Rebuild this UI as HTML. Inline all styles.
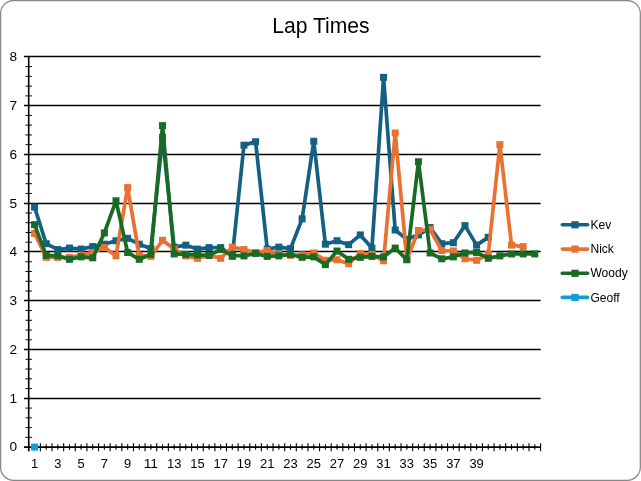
<!DOCTYPE html>
<html><head><meta charset="utf-8"><title>Lap Times</title>
<style>
html,body{margin:0;padding:0;background:#fff;}
body{width:641px;height:481px;overflow:hidden;}
svg{display:block;font-family:"Liberation Sans",Arial,sans-serif;}
</style></head><body>
<svg width="641" height="481" viewBox="0 0 641 481">
<rect x="0.6" y="0.6" width="639.72" height="479.7" rx="13" ry="13" fill="#fff" stroke="#888" stroke-width="1.25"/>
<text x="272.2" y="33" font-size="21.6" textLength="97.4" lengthAdjust="spacingAndGlyphs" fill="#000">Lap Times</text>
<line x1="24" y1="398.45" x2="540.6" y2="398.45" stroke="#000" stroke-width="1.35"/>
<line x1="24" y1="349.45" x2="540.6" y2="349.45" stroke="#000" stroke-width="1.35"/>
<line x1="24" y1="300.45" x2="540.6" y2="300.45" stroke="#000" stroke-width="1.35"/>
<line x1="24" y1="251.45" x2="540.6" y2="251.45" stroke="#000" stroke-width="1.35"/>
<line x1="24" y1="203.45" x2="540.6" y2="203.45" stroke="#000" stroke-width="1.35"/>
<line x1="24" y1="154.45" x2="540.6" y2="154.45" stroke="#000" stroke-width="1.35"/>
<line x1="24" y1="105.45" x2="540.6" y2="105.45" stroke="#000" stroke-width="1.35"/>
<line x1="24" y1="56.45" x2="540.6" y2="56.45" stroke="#000" stroke-width="1.35"/>
<line x1="25.5" y1="437.34" x2="31.9" y2="437.34" stroke="#000" stroke-width="1"/>
<line x1="25.5" y1="427.59" x2="31.9" y2="427.59" stroke="#000" stroke-width="1"/>
<line x1="25.5" y1="417.83" x2="31.9" y2="417.83" stroke="#000" stroke-width="1"/>
<line x1="25.5" y1="408.08" x2="31.9" y2="408.08" stroke="#000" stroke-width="1"/>
<line x1="25.5" y1="388.56" x2="31.9" y2="388.56" stroke="#000" stroke-width="1"/>
<line x1="25.5" y1="378.81" x2="31.9" y2="378.81" stroke="#000" stroke-width="1"/>
<line x1="25.5" y1="369.05" x2="31.9" y2="369.05" stroke="#000" stroke-width="1"/>
<line x1="25.5" y1="359.30" x2="31.9" y2="359.30" stroke="#000" stroke-width="1"/>
<line x1="25.5" y1="339.78" x2="31.9" y2="339.78" stroke="#000" stroke-width="1"/>
<line x1="25.5" y1="330.03" x2="31.9" y2="330.03" stroke="#000" stroke-width="1"/>
<line x1="25.5" y1="320.27" x2="31.9" y2="320.27" stroke="#000" stroke-width="1"/>
<line x1="25.5" y1="310.52" x2="31.9" y2="310.52" stroke="#000" stroke-width="1"/>
<line x1="25.5" y1="291.00" x2="31.9" y2="291.00" stroke="#000" stroke-width="1"/>
<line x1="25.5" y1="281.25" x2="31.9" y2="281.25" stroke="#000" stroke-width="1"/>
<line x1="25.5" y1="271.49" x2="31.9" y2="271.49" stroke="#000" stroke-width="1"/>
<line x1="25.5" y1="261.74" x2="31.9" y2="261.74" stroke="#000" stroke-width="1"/>
<line x1="25.5" y1="242.22" x2="31.9" y2="242.22" stroke="#000" stroke-width="1"/>
<line x1="25.5" y1="232.47" x2="31.9" y2="232.47" stroke="#000" stroke-width="1"/>
<line x1="25.5" y1="222.71" x2="31.9" y2="222.71" stroke="#000" stroke-width="1"/>
<line x1="25.5" y1="212.96" x2="31.9" y2="212.96" stroke="#000" stroke-width="1"/>
<line x1="25.5" y1="193.44" x2="31.9" y2="193.44" stroke="#000" stroke-width="1"/>
<line x1="25.5" y1="183.69" x2="31.9" y2="183.69" stroke="#000" stroke-width="1"/>
<line x1="25.5" y1="173.93" x2="31.9" y2="173.93" stroke="#000" stroke-width="1"/>
<line x1="25.5" y1="164.18" x2="31.9" y2="164.18" stroke="#000" stroke-width="1"/>
<line x1="25.5" y1="144.66" x2="31.9" y2="144.66" stroke="#000" stroke-width="1"/>
<line x1="25.5" y1="134.91" x2="31.9" y2="134.91" stroke="#000" stroke-width="1"/>
<line x1="25.5" y1="125.15" x2="31.9" y2="125.15" stroke="#000" stroke-width="1"/>
<line x1="25.5" y1="115.40" x2="31.9" y2="115.40" stroke="#000" stroke-width="1"/>
<line x1="25.5" y1="95.88" x2="31.9" y2="95.88" stroke="#000" stroke-width="1"/>
<line x1="25.5" y1="86.13" x2="31.9" y2="86.13" stroke="#000" stroke-width="1"/>
<line x1="25.5" y1="76.37" x2="31.9" y2="76.37" stroke="#000" stroke-width="1"/>
<line x1="25.5" y1="66.62" x2="31.9" y2="66.62" stroke="#000" stroke-width="1"/>
<line x1="28.7" y1="56.86" x2="28.7" y2="451.3" stroke="#000" stroke-width="1.6"/>
<line x1="24" y1="447.1" x2="540.6" y2="447.1" stroke="#000" stroke-width="1.8"/>
<line x1="28.75" y1="443.2" x2="28.75" y2="451.3" stroke="#000" stroke-width="1.1"/>
<line x1="40.38" y1="443.2" x2="40.38" y2="451.3" stroke="#000" stroke-width="1.1"/>
<line x1="52.02" y1="443.2" x2="52.02" y2="451.3" stroke="#000" stroke-width="1.1"/>
<line x1="63.65" y1="443.2" x2="63.65" y2="451.3" stroke="#000" stroke-width="1.1"/>
<line x1="75.28" y1="443.2" x2="75.28" y2="451.3" stroke="#000" stroke-width="1.1"/>
<line x1="86.91" y1="443.2" x2="86.91" y2="451.3" stroke="#000" stroke-width="1.1"/>
<line x1="98.55" y1="443.2" x2="98.55" y2="451.3" stroke="#000" stroke-width="1.1"/>
<line x1="110.18" y1="443.2" x2="110.18" y2="451.3" stroke="#000" stroke-width="1.1"/>
<line x1="121.81" y1="443.2" x2="121.81" y2="451.3" stroke="#000" stroke-width="1.1"/>
<line x1="133.45" y1="443.2" x2="133.45" y2="451.3" stroke="#000" stroke-width="1.1"/>
<line x1="145.08" y1="443.2" x2="145.08" y2="451.3" stroke="#000" stroke-width="1.1"/>
<line x1="156.71" y1="443.2" x2="156.71" y2="451.3" stroke="#000" stroke-width="1.1"/>
<line x1="168.35" y1="443.2" x2="168.35" y2="451.3" stroke="#000" stroke-width="1.1"/>
<line x1="179.98" y1="443.2" x2="179.98" y2="451.3" stroke="#000" stroke-width="1.1"/>
<line x1="191.61" y1="443.2" x2="191.61" y2="451.3" stroke="#000" stroke-width="1.1"/>
<line x1="203.24" y1="443.2" x2="203.24" y2="451.3" stroke="#000" stroke-width="1.1"/>
<line x1="214.88" y1="443.2" x2="214.88" y2="451.3" stroke="#000" stroke-width="1.1"/>
<line x1="226.51" y1="443.2" x2="226.51" y2="451.3" stroke="#000" stroke-width="1.1"/>
<line x1="238.14" y1="443.2" x2="238.14" y2="451.3" stroke="#000" stroke-width="1.1"/>
<line x1="249.78" y1="443.2" x2="249.78" y2="451.3" stroke="#000" stroke-width="1.1"/>
<line x1="261.41" y1="443.2" x2="261.41" y2="451.3" stroke="#000" stroke-width="1.1"/>
<line x1="273.04" y1="443.2" x2="273.04" y2="451.3" stroke="#000" stroke-width="1.1"/>
<line x1="284.68" y1="443.2" x2="284.68" y2="451.3" stroke="#000" stroke-width="1.1"/>
<line x1="296.31" y1="443.2" x2="296.31" y2="451.3" stroke="#000" stroke-width="1.1"/>
<line x1="307.94" y1="443.2" x2="307.94" y2="451.3" stroke="#000" stroke-width="1.1"/>
<line x1="319.57" y1="443.2" x2="319.57" y2="451.3" stroke="#000" stroke-width="1.1"/>
<line x1="331.21" y1="443.2" x2="331.21" y2="451.3" stroke="#000" stroke-width="1.1"/>
<line x1="342.84" y1="443.2" x2="342.84" y2="451.3" stroke="#000" stroke-width="1.1"/>
<line x1="354.47" y1="443.2" x2="354.47" y2="451.3" stroke="#000" stroke-width="1.1"/>
<line x1="366.11" y1="443.2" x2="366.11" y2="451.3" stroke="#000" stroke-width="1.1"/>
<line x1="377.74" y1="443.2" x2="377.74" y2="451.3" stroke="#000" stroke-width="1.1"/>
<line x1="389.37" y1="443.2" x2="389.37" y2="451.3" stroke="#000" stroke-width="1.1"/>
<line x1="401.00" y1="443.2" x2="401.00" y2="451.3" stroke="#000" stroke-width="1.1"/>
<line x1="412.64" y1="443.2" x2="412.64" y2="451.3" stroke="#000" stroke-width="1.1"/>
<line x1="424.27" y1="443.2" x2="424.27" y2="451.3" stroke="#000" stroke-width="1.1"/>
<line x1="435.90" y1="443.2" x2="435.90" y2="451.3" stroke="#000" stroke-width="1.1"/>
<line x1="447.54" y1="443.2" x2="447.54" y2="451.3" stroke="#000" stroke-width="1.1"/>
<line x1="459.17" y1="443.2" x2="459.17" y2="451.3" stroke="#000" stroke-width="1.1"/>
<line x1="470.80" y1="443.2" x2="470.80" y2="451.3" stroke="#000" stroke-width="1.1"/>
<line x1="482.44" y1="443.2" x2="482.44" y2="451.3" stroke="#000" stroke-width="1.1"/>
<line x1="494.07" y1="443.2" x2="494.07" y2="451.3" stroke="#000" stroke-width="1.1"/>
<line x1="505.70" y1="443.2" x2="505.70" y2="451.3" stroke="#000" stroke-width="1.1"/>
<line x1="517.33" y1="443.2" x2="517.33" y2="451.3" stroke="#000" stroke-width="1.1"/>
<line x1="528.97" y1="443.2" x2="528.97" y2="451.3" stroke="#000" stroke-width="1.1"/>
<line x1="540.60" y1="443.2" x2="540.60" y2="451.3" stroke="#000" stroke-width="1.1"/>
<line x1="34.57" y1="444.3" x2="34.57" y2="449.8" stroke="#000" stroke-width="1.1"/>
<line x1="46.20" y1="444.3" x2="46.20" y2="449.8" stroke="#000" stroke-width="1.1"/>
<line x1="57.83" y1="444.3" x2="57.83" y2="449.8" stroke="#000" stroke-width="1.1"/>
<line x1="69.47" y1="444.3" x2="69.47" y2="449.8" stroke="#000" stroke-width="1.1"/>
<line x1="81.10" y1="444.3" x2="81.10" y2="449.8" stroke="#000" stroke-width="1.1"/>
<line x1="92.73" y1="444.3" x2="92.73" y2="449.8" stroke="#000" stroke-width="1.1"/>
<line x1="104.36" y1="444.3" x2="104.36" y2="449.8" stroke="#000" stroke-width="1.1"/>
<line x1="116.00" y1="444.3" x2="116.00" y2="449.8" stroke="#000" stroke-width="1.1"/>
<line x1="127.63" y1="444.3" x2="127.63" y2="449.8" stroke="#000" stroke-width="1.1"/>
<line x1="139.26" y1="444.3" x2="139.26" y2="449.8" stroke="#000" stroke-width="1.1"/>
<line x1="150.90" y1="444.3" x2="150.90" y2="449.8" stroke="#000" stroke-width="1.1"/>
<line x1="162.53" y1="444.3" x2="162.53" y2="449.8" stroke="#000" stroke-width="1.1"/>
<line x1="174.16" y1="444.3" x2="174.16" y2="449.8" stroke="#000" stroke-width="1.1"/>
<line x1="185.79" y1="444.3" x2="185.79" y2="449.8" stroke="#000" stroke-width="1.1"/>
<line x1="197.43" y1="444.3" x2="197.43" y2="449.8" stroke="#000" stroke-width="1.1"/>
<line x1="209.06" y1="444.3" x2="209.06" y2="449.8" stroke="#000" stroke-width="1.1"/>
<line x1="220.69" y1="444.3" x2="220.69" y2="449.8" stroke="#000" stroke-width="1.1"/>
<line x1="232.33" y1="444.3" x2="232.33" y2="449.8" stroke="#000" stroke-width="1.1"/>
<line x1="243.96" y1="444.3" x2="243.96" y2="449.8" stroke="#000" stroke-width="1.1"/>
<line x1="255.59" y1="444.3" x2="255.59" y2="449.8" stroke="#000" stroke-width="1.1"/>
<line x1="267.23" y1="444.3" x2="267.23" y2="449.8" stroke="#000" stroke-width="1.1"/>
<line x1="278.86" y1="444.3" x2="278.86" y2="449.8" stroke="#000" stroke-width="1.1"/>
<line x1="290.49" y1="444.3" x2="290.49" y2="449.8" stroke="#000" stroke-width="1.1"/>
<line x1="302.12" y1="444.3" x2="302.12" y2="449.8" stroke="#000" stroke-width="1.1"/>
<line x1="313.76" y1="444.3" x2="313.76" y2="449.8" stroke="#000" stroke-width="1.1"/>
<line x1="325.39" y1="444.3" x2="325.39" y2="449.8" stroke="#000" stroke-width="1.1"/>
<line x1="337.02" y1="444.3" x2="337.02" y2="449.8" stroke="#000" stroke-width="1.1"/>
<line x1="348.66" y1="444.3" x2="348.66" y2="449.8" stroke="#000" stroke-width="1.1"/>
<line x1="360.29" y1="444.3" x2="360.29" y2="449.8" stroke="#000" stroke-width="1.1"/>
<line x1="371.92" y1="444.3" x2="371.92" y2="449.8" stroke="#000" stroke-width="1.1"/>
<line x1="383.56" y1="444.3" x2="383.56" y2="449.8" stroke="#000" stroke-width="1.1"/>
<line x1="395.19" y1="444.3" x2="395.19" y2="449.8" stroke="#000" stroke-width="1.1"/>
<line x1="406.82" y1="444.3" x2="406.82" y2="449.8" stroke="#000" stroke-width="1.1"/>
<line x1="418.45" y1="444.3" x2="418.45" y2="449.8" stroke="#000" stroke-width="1.1"/>
<line x1="430.09" y1="444.3" x2="430.09" y2="449.8" stroke="#000" stroke-width="1.1"/>
<line x1="441.72" y1="444.3" x2="441.72" y2="449.8" stroke="#000" stroke-width="1.1"/>
<line x1="453.35" y1="444.3" x2="453.35" y2="449.8" stroke="#000" stroke-width="1.1"/>
<line x1="464.99" y1="444.3" x2="464.99" y2="449.8" stroke="#000" stroke-width="1.1"/>
<line x1="476.62" y1="444.3" x2="476.62" y2="449.8" stroke="#000" stroke-width="1.1"/>
<line x1="488.25" y1="444.3" x2="488.25" y2="449.8" stroke="#000" stroke-width="1.1"/>
<line x1="499.88" y1="444.3" x2="499.88" y2="449.8" stroke="#000" stroke-width="1.1"/>
<line x1="511.52" y1="444.3" x2="511.52" y2="449.8" stroke="#000" stroke-width="1.1"/>
<line x1="523.15" y1="444.3" x2="523.15" y2="449.8" stroke="#000" stroke-width="1.1"/>
<line x1="534.78" y1="444.3" x2="534.78" y2="449.8" stroke="#000" stroke-width="1.1"/>
<text x="17.2" y="451.40" text-anchor="end" font-size="12" textLength="7.6" lengthAdjust="spacingAndGlyphs">0</text>
<text x="17.2" y="402.62" text-anchor="end" font-size="12" textLength="7.6" lengthAdjust="spacingAndGlyphs">1</text>
<text x="17.2" y="353.84" text-anchor="end" font-size="12" textLength="7.6" lengthAdjust="spacingAndGlyphs">2</text>
<text x="17.2" y="305.06" text-anchor="end" font-size="12" textLength="7.6" lengthAdjust="spacingAndGlyphs">3</text>
<text x="17.2" y="256.28" text-anchor="end" font-size="12" textLength="7.6" lengthAdjust="spacingAndGlyphs">4</text>
<text x="17.2" y="207.50" text-anchor="end" font-size="12" textLength="7.6" lengthAdjust="spacingAndGlyphs">5</text>
<text x="17.2" y="158.72" text-anchor="end" font-size="12" textLength="7.6" lengthAdjust="spacingAndGlyphs">6</text>
<text x="17.2" y="109.94" text-anchor="end" font-size="12" textLength="7.6" lengthAdjust="spacingAndGlyphs">7</text>
<text x="17.2" y="61.16" text-anchor="end" font-size="12" textLength="7.6" lengthAdjust="spacingAndGlyphs">8</text>
<text x="34.57" y="468" text-anchor="middle" font-size="12" textLength="7.2" lengthAdjust="spacingAndGlyphs">1</text>
<text x="57.83" y="468" text-anchor="middle" font-size="12" textLength="7.2" lengthAdjust="spacingAndGlyphs">3</text>
<text x="81.10" y="468" text-anchor="middle" font-size="12" textLength="7.2" lengthAdjust="spacingAndGlyphs">5</text>
<text x="104.36" y="468" text-anchor="middle" font-size="12" textLength="7.2" lengthAdjust="spacingAndGlyphs">7</text>
<text x="127.63" y="468" text-anchor="middle" font-size="12" textLength="7.2" lengthAdjust="spacingAndGlyphs">9</text>
<text x="150.90" y="468" text-anchor="middle" font-size="12" textLength="14.4" lengthAdjust="spacingAndGlyphs">11</text>
<text x="174.16" y="468" text-anchor="middle" font-size="12" textLength="14.4" lengthAdjust="spacingAndGlyphs">13</text>
<text x="197.43" y="468" text-anchor="middle" font-size="12" textLength="14.4" lengthAdjust="spacingAndGlyphs">15</text>
<text x="220.69" y="468" text-anchor="middle" font-size="12" textLength="14.4" lengthAdjust="spacingAndGlyphs">17</text>
<text x="243.96" y="468" text-anchor="middle" font-size="12" textLength="14.4" lengthAdjust="spacingAndGlyphs">19</text>
<text x="267.23" y="468" text-anchor="middle" font-size="12" textLength="14.4" lengthAdjust="spacingAndGlyphs">21</text>
<text x="290.49" y="468" text-anchor="middle" font-size="12" textLength="14.4" lengthAdjust="spacingAndGlyphs">23</text>
<text x="313.76" y="468" text-anchor="middle" font-size="12" textLength="14.4" lengthAdjust="spacingAndGlyphs">25</text>
<text x="337.02" y="468" text-anchor="middle" font-size="12" textLength="14.4" lengthAdjust="spacingAndGlyphs">27</text>
<text x="360.29" y="468" text-anchor="middle" font-size="12" textLength="14.4" lengthAdjust="spacingAndGlyphs">29</text>
<text x="383.56" y="468" text-anchor="middle" font-size="12" textLength="14.4" lengthAdjust="spacingAndGlyphs">31</text>
<text x="406.82" y="468" text-anchor="middle" font-size="12" textLength="14.4" lengthAdjust="spacingAndGlyphs">33</text>
<text x="430.09" y="468" text-anchor="middle" font-size="12" textLength="14.4" lengthAdjust="spacingAndGlyphs">35</text>
<text x="453.35" y="468" text-anchor="middle" font-size="12" textLength="14.4" lengthAdjust="spacingAndGlyphs">37</text>
<text x="476.62" y="468" text-anchor="middle" font-size="12" textLength="14.4" lengthAdjust="spacingAndGlyphs">39</text>
<polyline points="34.57,207.10 46.20,243.69 57.83,249.54 69.47,248.08 81.10,249.05 92.73,246.61 104.36,244.18 116.00,240.76 127.63,238.32 139.26,244.18 150.90,248.57 162.53,137.35 174.16,247.10 185.79,245.15 197.43,249.05 209.06,247.59 220.69,247.59 232.33,256.37 243.96,145.15 255.59,141.74 267.23,249.05 278.86,247.10 290.49,248.57 302.12,218.81 313.76,141.25 325.39,244.18 337.02,240.76 348.66,244.66 360.29,234.91 371.92,248.08 383.56,77.35 395.19,230.03 406.82,239.30 418.45,234.91 430.09,227.59 441.72,243.69 453.35,242.71 464.99,225.64 476.62,245.15 488.25,237.35" fill="none" stroke="#156082" stroke-width="3.7" stroke-linejoin="round" stroke-linecap="round"/>
<rect x="31.07" y="203.60" width="7.0" height="7.0" fill="#156082"/>
<rect x="42.70" y="240.19" width="7.0" height="7.0" fill="#156082"/>
<rect x="54.33" y="246.04" width="7.0" height="7.0" fill="#156082"/>
<rect x="65.97" y="244.58" width="7.0" height="7.0" fill="#156082"/>
<rect x="77.60" y="245.55" width="7.0" height="7.0" fill="#156082"/>
<rect x="89.23" y="243.11" width="7.0" height="7.0" fill="#156082"/>
<rect x="100.86" y="240.68" width="7.0" height="7.0" fill="#156082"/>
<rect x="112.50" y="237.26" width="7.0" height="7.0" fill="#156082"/>
<rect x="124.13" y="234.82" width="7.0" height="7.0" fill="#156082"/>
<rect x="135.76" y="240.68" width="7.0" height="7.0" fill="#156082"/>
<rect x="147.40" y="245.07" width="7.0" height="7.0" fill="#156082"/>
<rect x="159.03" y="133.85" width="7.0" height="7.0" fill="#156082"/>
<rect x="170.66" y="243.60" width="7.0" height="7.0" fill="#156082"/>
<rect x="182.29" y="241.65" width="7.0" height="7.0" fill="#156082"/>
<rect x="193.93" y="245.55" width="7.0" height="7.0" fill="#156082"/>
<rect x="205.56" y="244.09" width="7.0" height="7.0" fill="#156082"/>
<rect x="217.19" y="244.09" width="7.0" height="7.0" fill="#156082"/>
<rect x="228.83" y="252.87" width="7.0" height="7.0" fill="#156082"/>
<rect x="240.46" y="141.65" width="7.0" height="7.0" fill="#156082"/>
<rect x="252.09" y="138.24" width="7.0" height="7.0" fill="#156082"/>
<rect x="263.73" y="245.55" width="7.0" height="7.0" fill="#156082"/>
<rect x="275.36" y="243.60" width="7.0" height="7.0" fill="#156082"/>
<rect x="286.99" y="245.07" width="7.0" height="7.0" fill="#156082"/>
<rect x="298.62" y="215.31" width="7.0" height="7.0" fill="#156082"/>
<rect x="310.26" y="137.75" width="7.0" height="7.0" fill="#156082"/>
<rect x="321.89" y="240.68" width="7.0" height="7.0" fill="#156082"/>
<rect x="333.52" y="237.26" width="7.0" height="7.0" fill="#156082"/>
<rect x="345.16" y="241.16" width="7.0" height="7.0" fill="#156082"/>
<rect x="356.79" y="231.41" width="7.0" height="7.0" fill="#156082"/>
<rect x="368.42" y="244.58" width="7.0" height="7.0" fill="#156082"/>
<rect x="380.06" y="73.85" width="7.0" height="7.0" fill="#156082"/>
<rect x="391.69" y="226.53" width="7.0" height="7.0" fill="#156082"/>
<rect x="403.32" y="235.80" width="7.0" height="7.0" fill="#156082"/>
<rect x="414.95" y="231.41" width="7.0" height="7.0" fill="#156082"/>
<rect x="426.59" y="224.09" width="7.0" height="7.0" fill="#156082"/>
<rect x="438.22" y="240.19" width="7.0" height="7.0" fill="#156082"/>
<rect x="449.85" y="239.21" width="7.0" height="7.0" fill="#156082"/>
<rect x="461.49" y="222.14" width="7.0" height="7.0" fill="#156082"/>
<rect x="473.12" y="241.65" width="7.0" height="7.0" fill="#156082"/>
<rect x="484.75" y="233.85" width="7.0" height="7.0" fill="#156082"/>
<polyline points="34.57,233.44 46.20,257.35 57.83,257.35 69.47,257.35 81.10,255.39 92.73,252.47 104.36,247.59 116.00,255.88 127.63,187.59 139.26,255.39 150.90,256.37 162.53,240.27 174.16,249.05 185.79,255.88 197.43,258.32 209.06,255.39 220.69,258.32 232.33,247.10 243.96,249.54 255.59,252.47 267.23,250.52 278.86,254.42 290.49,255.39 302.12,254.91 313.76,252.96 325.39,260.27 337.02,259.78 348.66,263.69 360.29,253.44 371.92,254.42 383.56,260.76 395.19,132.96 406.82,259.30 418.45,230.52 430.09,229.54 441.72,250.52 453.35,251.00 464.99,258.81 476.62,260.27 488.25,254.42 499.88,144.66 511.52,245.15 523.15,246.61" fill="none" stroke="#E97132" stroke-width="3.7" stroke-linejoin="round" stroke-linecap="round"/>
<rect x="31.07" y="229.94" width="7.0" height="7.0" fill="#E97132"/>
<rect x="42.70" y="253.85" width="7.0" height="7.0" fill="#E97132"/>
<rect x="54.33" y="253.85" width="7.0" height="7.0" fill="#E97132"/>
<rect x="65.97" y="253.85" width="7.0" height="7.0" fill="#E97132"/>
<rect x="77.60" y="251.89" width="7.0" height="7.0" fill="#E97132"/>
<rect x="89.23" y="248.97" width="7.0" height="7.0" fill="#E97132"/>
<rect x="100.86" y="244.09" width="7.0" height="7.0" fill="#E97132"/>
<rect x="112.50" y="252.38" width="7.0" height="7.0" fill="#E97132"/>
<rect x="124.13" y="184.09" width="7.0" height="7.0" fill="#E97132"/>
<rect x="135.76" y="251.89" width="7.0" height="7.0" fill="#E97132"/>
<rect x="147.40" y="252.87" width="7.0" height="7.0" fill="#E97132"/>
<rect x="159.03" y="236.77" width="7.0" height="7.0" fill="#E97132"/>
<rect x="170.66" y="245.55" width="7.0" height="7.0" fill="#E97132"/>
<rect x="182.29" y="252.38" width="7.0" height="7.0" fill="#E97132"/>
<rect x="193.93" y="254.82" width="7.0" height="7.0" fill="#E97132"/>
<rect x="205.56" y="251.89" width="7.0" height="7.0" fill="#E97132"/>
<rect x="217.19" y="254.82" width="7.0" height="7.0" fill="#E97132"/>
<rect x="228.83" y="243.60" width="7.0" height="7.0" fill="#E97132"/>
<rect x="240.46" y="246.04" width="7.0" height="7.0" fill="#E97132"/>
<rect x="252.09" y="248.97" width="7.0" height="7.0" fill="#E97132"/>
<rect x="263.73" y="247.02" width="7.0" height="7.0" fill="#E97132"/>
<rect x="275.36" y="250.92" width="7.0" height="7.0" fill="#E97132"/>
<rect x="286.99" y="251.89" width="7.0" height="7.0" fill="#E97132"/>
<rect x="298.62" y="251.41" width="7.0" height="7.0" fill="#E97132"/>
<rect x="310.26" y="249.46" width="7.0" height="7.0" fill="#E97132"/>
<rect x="321.89" y="256.77" width="7.0" height="7.0" fill="#E97132"/>
<rect x="333.52" y="256.28" width="7.0" height="7.0" fill="#E97132"/>
<rect x="345.16" y="260.19" width="7.0" height="7.0" fill="#E97132"/>
<rect x="356.79" y="249.94" width="7.0" height="7.0" fill="#E97132"/>
<rect x="368.42" y="250.92" width="7.0" height="7.0" fill="#E97132"/>
<rect x="380.06" y="257.26" width="7.0" height="7.0" fill="#E97132"/>
<rect x="391.69" y="129.46" width="7.0" height="7.0" fill="#E97132"/>
<rect x="403.32" y="255.80" width="7.0" height="7.0" fill="#E97132"/>
<rect x="414.95" y="227.02" width="7.0" height="7.0" fill="#E97132"/>
<rect x="426.59" y="226.04" width="7.0" height="7.0" fill="#E97132"/>
<rect x="438.22" y="247.02" width="7.0" height="7.0" fill="#E97132"/>
<rect x="449.85" y="247.50" width="7.0" height="7.0" fill="#E97132"/>
<rect x="461.49" y="255.31" width="7.0" height="7.0" fill="#E97132"/>
<rect x="473.12" y="256.77" width="7.0" height="7.0" fill="#E97132"/>
<rect x="484.75" y="250.92" width="7.0" height="7.0" fill="#E97132"/>
<rect x="496.38" y="141.16" width="7.0" height="7.0" fill="#E97132"/>
<rect x="508.02" y="241.65" width="7.0" height="7.0" fill="#E97132"/>
<rect x="519.65" y="243.11" width="7.0" height="7.0" fill="#E97132"/>
<polyline points="34.57,224.66 46.20,255.39 57.83,255.88 69.47,259.30 81.10,256.86 92.73,257.83 104.36,232.96 116.00,200.76 127.63,252.47 139.26,259.30 150.90,254.42 162.53,125.64 174.16,253.93 185.79,254.42 197.43,254.91 209.06,255.39 220.69,249.54 232.33,255.39 243.96,255.88 255.59,253.44 267.23,256.37 278.86,255.88 290.49,254.42 302.12,257.35 313.76,256.86 325.39,264.66 337.02,251.00 348.66,259.30 360.29,257.35 371.92,256.37 383.56,256.86 395.19,248.08 406.82,259.78 418.45,161.74 430.09,252.96 441.72,258.81 453.35,256.86 464.99,252.96 476.62,252.47 488.25,258.32 499.88,255.88 511.52,253.93 523.15,253.93 534.78,253.93" fill="none" stroke="#196B24" stroke-width="3.7" stroke-linejoin="round" stroke-linecap="round"/>
<rect x="31.07" y="221.16" width="7.0" height="7.0" fill="#196B24"/>
<rect x="42.70" y="251.89" width="7.0" height="7.0" fill="#196B24"/>
<rect x="54.33" y="252.38" width="7.0" height="7.0" fill="#196B24"/>
<rect x="65.97" y="255.80" width="7.0" height="7.0" fill="#196B24"/>
<rect x="77.60" y="253.36" width="7.0" height="7.0" fill="#196B24"/>
<rect x="89.23" y="254.33" width="7.0" height="7.0" fill="#196B24"/>
<rect x="100.86" y="229.46" width="7.0" height="7.0" fill="#196B24"/>
<rect x="112.50" y="197.26" width="7.0" height="7.0" fill="#196B24"/>
<rect x="124.13" y="248.97" width="7.0" height="7.0" fill="#196B24"/>
<rect x="135.76" y="255.80" width="7.0" height="7.0" fill="#196B24"/>
<rect x="147.40" y="250.92" width="7.0" height="7.0" fill="#196B24"/>
<rect x="159.03" y="122.14" width="7.0" height="7.0" fill="#196B24"/>
<rect x="170.66" y="250.43" width="7.0" height="7.0" fill="#196B24"/>
<rect x="182.29" y="250.92" width="7.0" height="7.0" fill="#196B24"/>
<rect x="193.93" y="251.41" width="7.0" height="7.0" fill="#196B24"/>
<rect x="205.56" y="251.89" width="7.0" height="7.0" fill="#196B24"/>
<rect x="217.19" y="246.04" width="7.0" height="7.0" fill="#196B24"/>
<rect x="228.83" y="251.89" width="7.0" height="7.0" fill="#196B24"/>
<rect x="240.46" y="252.38" width="7.0" height="7.0" fill="#196B24"/>
<rect x="252.09" y="249.94" width="7.0" height="7.0" fill="#196B24"/>
<rect x="263.73" y="252.87" width="7.0" height="7.0" fill="#196B24"/>
<rect x="275.36" y="252.38" width="7.0" height="7.0" fill="#196B24"/>
<rect x="286.99" y="250.92" width="7.0" height="7.0" fill="#196B24"/>
<rect x="298.62" y="253.85" width="7.0" height="7.0" fill="#196B24"/>
<rect x="310.26" y="253.36" width="7.0" height="7.0" fill="#196B24"/>
<rect x="321.89" y="261.16" width="7.0" height="7.0" fill="#196B24"/>
<rect x="333.52" y="247.50" width="7.0" height="7.0" fill="#196B24"/>
<rect x="345.16" y="255.80" width="7.0" height="7.0" fill="#196B24"/>
<rect x="356.79" y="253.85" width="7.0" height="7.0" fill="#196B24"/>
<rect x="368.42" y="252.87" width="7.0" height="7.0" fill="#196B24"/>
<rect x="380.06" y="253.36" width="7.0" height="7.0" fill="#196B24"/>
<rect x="391.69" y="244.58" width="7.0" height="7.0" fill="#196B24"/>
<rect x="403.32" y="256.28" width="7.0" height="7.0" fill="#196B24"/>
<rect x="414.95" y="158.24" width="7.0" height="7.0" fill="#196B24"/>
<rect x="426.59" y="249.46" width="7.0" height="7.0" fill="#196B24"/>
<rect x="438.22" y="255.31" width="7.0" height="7.0" fill="#196B24"/>
<rect x="449.85" y="253.36" width="7.0" height="7.0" fill="#196B24"/>
<rect x="461.49" y="249.46" width="7.0" height="7.0" fill="#196B24"/>
<rect x="473.12" y="248.97" width="7.0" height="7.0" fill="#196B24"/>
<rect x="484.75" y="254.82" width="7.0" height="7.0" fill="#196B24"/>
<rect x="496.38" y="252.38" width="7.0" height="7.0" fill="#196B24"/>
<rect x="508.02" y="250.43" width="7.0" height="7.0" fill="#196B24"/>
<rect x="519.65" y="250.43" width="7.0" height="7.0" fill="#196B24"/>
<rect x="531.28" y="250.43" width="7.0" height="7.0" fill="#196B24"/>
<rect x="31.07" y="443.60" width="7.0" height="7.0" fill="#0F9ED5"/>
<line x1="562.3" y1="224.8" x2="587.6" y2="224.8" stroke="#156082" stroke-width="3.6" stroke-linecap="round"/>
<rect x="571.40" y="221.20" width="7.2" height="7.2" fill="#156082"/>
<text x="590.5" y="228.90" font-size="12">Kev</text>
<line x1="562.3" y1="249.1" x2="587.6" y2="249.1" stroke="#E97132" stroke-width="3.6" stroke-linecap="round"/>
<rect x="571.40" y="245.50" width="7.2" height="7.2" fill="#E97132"/>
<text x="590.5" y="253.20" font-size="12">Nick</text>
<line x1="562.3" y1="273.3" x2="587.6" y2="273.3" stroke="#196B24" stroke-width="3.6" stroke-linecap="round"/>
<rect x="571.40" y="269.70" width="7.2" height="7.2" fill="#196B24"/>
<text x="590.5" y="277.40" font-size="12">Woody</text>
<line x1="562.3" y1="297.4" x2="587.6" y2="297.4" stroke="#0F9ED5" stroke-width="3.6" stroke-linecap="round"/>
<rect x="571.40" y="293.80" width="7.2" height="7.2" fill="#0F9ED5"/>
<text x="590.5" y="301.50" font-size="12">Geoff</text>
</svg>
</body></html>
